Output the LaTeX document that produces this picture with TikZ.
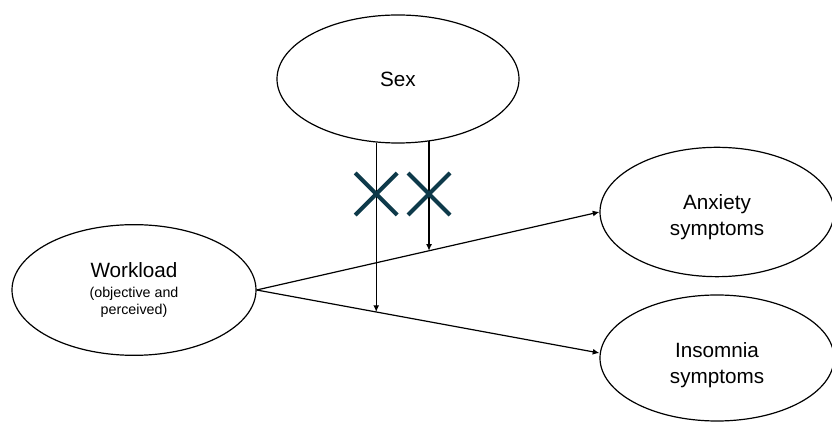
\documentclass[tikz,border=0pt]{standalone}
\usepackage{fontspec}
\setmainfont{Liberation Sans}
\usetikzlibrary{shapes,arrows.meta,positioning,calc}
\definecolor{crossteal}{RGB}{14,58,74}
\newcommand\notefont{\fontsize{10.7}{13}\selectfont}
\tikzset{
    construct/.style = {ellipse, draw=black, line width=0.9pt, fill=white, inner sep=0pt,
                        align=center, font=\fontsize{15.5}{19.5}\selectfont},
    effect/.style    = {-{Latex[length=5pt,width=4.5pt]}, line width=0.9pt, draw=black},
    nullmark/.style  = {cross out, draw=crossteal, line width=3pt, minimum size=28.5pt, inner sep=0pt}
}
\begin{document}
\begin{tikzpicture}[x=0.75pt, y=-0.75pt]
    \useasboundingbox (0,0) rectangle (832,423);
    \clip (0,0) rectangle (832,423);
    \node[construct, minimum width=181.5pt, minimum height=96pt]   (sex)  at (398,79)  {Sex};
    \node[construct, minimum width=183pt,   minimum height=98pt]   (work) at (134,290) {Workload\\[-4.5pt]{\notefont(objective and}\\[-7.2pt]{\notefont perceived)}};
    \node[construct, minimum width=175.5pt, minimum height=97pt, text height=37.8pt]   (anx) at (717,212) {Anxiety\\symptoms};
    \node[construct, minimum width=175.5pt, minimum height=94.5pt, text height=40.8pt] (ins) at (717,358) {Insomnia\\symptoms};
    \draw[effect] (work.east) -- coordinate[pos=0.503] (onanx) (anx.west);
    \draw[effect] (work.east) -- coordinate[pos=0.349] (onins) ([yshift=3.75pt]ins.west);
    \draw[effect] (sex.-109 -| onins) -- (onins);
    \draw[effect] (sex.-63 -| onanx) -- (onanx);
    \node[nullmark] (xins) at (onins |- 0,194) {};
    \node[nullmark] (xanx) at (onanx |- 0,194) {};
\end{tikzpicture}
\end{document}
